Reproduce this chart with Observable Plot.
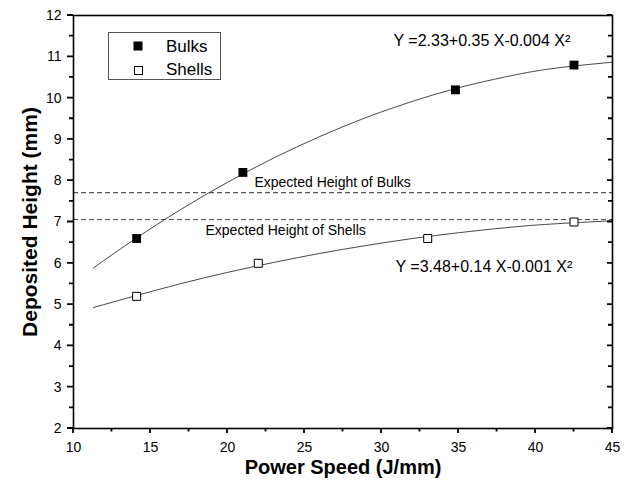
<!DOCTYPE html>
<html><head><meta charset="utf-8">
<script src="https://cdn.jsdelivr.net/npm/d3@7"></script>
<script src="https://cdn.jsdelivr.net/npm/@observablehq/plot@0.6"></script>
<style>
body{margin:0;background:#fff}
#chart{width:628px;height:487px}
</style>
</head><body><div id="chart"></div>
<script>
// Measured points
const bulkX = [14.1, 21.0, 34.8, 42.5];
const bulkY = [6.6, 8.2, 10.2, 10.8];
const shellX = [14.1, 22.0, 33.0, 42.5];
const shellY = [5.2, 6.0, 6.6, 7.0];
// Fitted curves
const fitX = [11.3, 14, 17, 20, 23, 26, 29, 32, 35, 38, 41, 45];
const bulkFitY = [5.89, 6.59, 7.31, 7.96, 8.55, 9.07, 9.53, 9.92, 10.25, 10.51, 10.71, 10.87];
const shellFitY = [4.93, 5.21, 5.51, 5.78, 6.02, 6.24, 6.43, 6.60, 6.74, 6.86, 6.95, 7.03];
// Expected heights
const expectedLabels = ["Expected Height of Bulks", "Expected Height of Shells"];
const expectedValues = [7.71, 7.06];
// Equations
const equations = ["Y =2.33+0.35 X-0.004 X\u00B2", "Y =3.48+0.14 X-0.001 X\u00B2"];
// Ticks
const xTicks = [10, 15, 20, 25, 30, 35, 40, 45];
const xMinor = [12.5, 17.5, 22.5, 27.5, 32.5, 37.5, 42.5];
const yTicks = [2, 3, 4, 5, 6, 7, 8, 9, 10, 11, 12];
const yMinor = [2.5, 3.5, 4.5, 5.5, 6.5, 7.5, 8.5, 9.5, 10.5, 11.5];
const seriesNames = ["Bulks", "Shells"];

const font = "'Liberation Sans', Arial, Helvetica, sans-serif";

const plot = Plot.plot({
  width: 628, height: 487,
  marginLeft: 73, marginRight: 16, marginTop: 15, marginBottom: 59,
  x: {domain: [10, 45]},
  y: {domain: [2, 12]},
  style: {fontFamily: font, fontSize: "14px", color: "#000", background: "#fff", overflow: "visible"},
  marks: [
    Plot.ruleY(expectedValues, {stroke: "#555", strokeDasharray: "5,3", strokeWidth: 1.2}),
    Plot.text(expectedLabels, {x: [21.75, 18.57], y: [7.96, 6.79], text: d => d, textAnchor: "start", fontSize: 14, fill: "#000"}),
    Plot.line(fitX, {x: d => d, y: (d, i) => bulkFitY[i], curve: "natural", stroke: "#333", strokeWidth: 0.9}),
    Plot.line(fitX, {x: d => d, y: (d, i) => shellFitY[i], curve: "natural", stroke: "#333", strokeWidth: 0.9}),
    Plot.dot(bulkX, {x: d => d, y: (d, i) => bulkY[i], symbol: "square", r: 5, fill: "#000", stroke: "none"}),
    Plot.dot(shellX, {x: d => d, y: (d, i) => shellY[i], symbol: "square", r: 4.5, fill: "#fff", stroke: "#000", strokeWidth: 1}),
    Plot.text(equations, {x: [30.78, 30.91], y: [11.38, 5.92], text: d => d, textAnchor: "start", fontSize: 16, fill: "#000"}),
    Plot.frame({stroke: "#000", strokeWidth: 1.6}),
    // tick labels
    Plot.axisX({ticks: xTicks, tickSize: 0, tickPadding: 14, label: null, fontSize: 14}),
    Plot.axisY({ticks: yTicks, tickSize: 0, tickPadding: 12, label: null, fontSize: 14}),
    Plot.text(["Power Speed (J/mm)"], {frameAnchor: "bottom", lineAnchor: "middle", textAnchor: "middle", dy: 39, fontWeight: "bold", fontSize: 20, fill: "#000"}),
    Plot.text(["Deposited Height (mm)"], {frameAnchor: "left", textAnchor: "middle", lineAnchor: "middle", dx: -43, rotate: -90, fontWeight: "bold", fontSize: 21, fill: "#000"})
  ]
});

const svg = d3.select(plot);
const sx = plot.scale("x"), sy = plot.scale("y");
const fx0 = sx.apply(10), fx1 = sx.apply(45), fy0 = sy.apply(2);
// Tick marks positioned with the plot's own scales
const tg = svg.append("g").attr("stroke", "#000").attr("stroke-width", 1.8).attr("fill", "none");
xTicks.forEach(v => tg.append("path").attr("d", `M${sx.apply(v)},${fy0}v5`));
xMinor.forEach(v => tg.append("path").attr("d", `M${sx.apply(v)},${fy0}v3.5`));
yTicks.forEach(v => tg.append("path").attr("d", `M${fx0},${sy.apply(v)}h-6M${fx1},${sy.apply(v)}h-5`));
yMinor.forEach(v => tg.append("path").attr("d", `M${fx0},${sy.apply(v)}h-4M${fx1},${sy.apply(v)}h-4`));

// Legend box
const lg = svg.append("g").attr("font-family", font).attr("text-anchor", "start");
lg.append("rect").attr("x", 108.5).attr("y", 32.5).attr("width", 112).attr("height", 47)
  .attr("fill", "#fff").attr("stroke", "#555").attr("stroke-width", 1);
lg.append("rect").attr("x", 133.5).attr("y", 41.5).attr("width", 9).attr("height", 9).attr("fill", "#000");
lg.append("rect").attr("x", 134.5).attr("y", 66.5).attr("width", 8).attr("height", 8)
  .attr("fill", "#fff").attr("stroke", "#000").attr("stroke-width", 1);
lg.selectAll("text.lab").data(seriesNames).join("text").attr("class", "lab")
  .attr("x", 166).attr("y", (d, i) => i === 0 ? 52 : 75)
  .attr("text-anchor", "start")
  .attr("font-size", 17).attr("fill", "#000").text(d => d);

document.getElementById("chart").appendChild(plot);
</script>
</body></html>
